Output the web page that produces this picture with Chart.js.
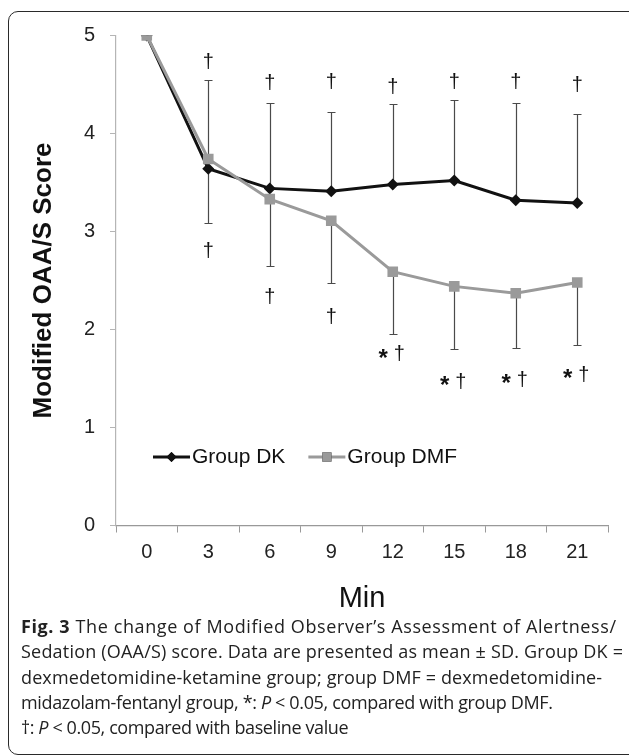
<!DOCTYPE html>
<html>
<head>
<meta charset="utf-8">
<script src="https://cdn.jsdelivr.net/npm/chart.js@4.4.1/dist/chart.umd.min.js"></script>
<style>
  body { margin: 0; background: #fff; width: 629px; height: 756px; overflow: hidden; position: relative; }
  #frame { position: absolute; left: 8px; top: 11px; width: 640px; height: 742px; border: 1.5px solid #2a2a2a; border-radius: 10px; }
  #wrap { position: absolute; left: 0; top: 0; width: 629px; height: 620px; }
  #caption { position: absolute; left: 21px; top: 614px; font-family: "Open Sans", sans-serif; font-size: 18px; line-height: 25.3px; color: #222; white-space: nowrap; }
  #caption b { font-weight: 700; }
  #caption span { display: block; }
</style>
</head>
<body>
<div id="frame"></div>
<div id="wrap"><canvas id="myChart" width="629" height="620"></canvas></div>
<div id="caption">
  <span style="letter-spacing:0.6px"><b>Fig. 3</b> The change of Modified Observer’s Assessment of Alertness/</span>
  <span style="letter-spacing:0.2px">Sedation (OAA/S) score. Data are presented as mean ± SD. Group DK =</span>
  <span style="letter-spacing:0.12px">dexmedetomidine-ketamine group; group DMF = dexmedetomidine-</span>
  <span style="letter-spacing:-0.35px">midazolam-fentanyl group, *: <i>P</i> &lt; 0.05, compared with group DMF.</span>
  <span style="letter-spacing:-0.4px">†: <i>P</i> &lt; 0.05, compared with baseline value</span>
</div>
<script>
const minutes = ["0", "3", "6", "9", "12", "15", "18", "21"];
const dkMean = [5, 3.64, 3.44, 3.41, 3.48, 3.52, 3.32, 3.29];
const dmfMean = [5, 3.74, 3.33, 3.11, 2.59, 2.44, 2.37, 2.48];
const dkUpper = [null, 4.55, 4.31, 4.22, 4.30, 4.34, 4.31, 4.20];
const dmfLower = [null, 3.09, 2.65, 2.47, 1.95, 1.80, 1.81, 1.84];
const dkMarks = ["", "†", "†", "†", "†", "†", "†", "†"];
const dmfMarks = ["", "†", "†", "†", "*†", "*†", "*†", "*†"];
const yTicks = [0, 1, 2, 3, 4, 5];

// gap (px) between the error bar cap and its significance mark
const dkMarkGap = [0, 17, 20, 29, 17, 18, 21, 28];
const dmfMarkGap = [0, 29, 32, 34, 20, 33, 32, 30];

const FONT = '"Liberation Sans", Arial, sans-serif';

// error bars go behind the lines, marks go on top
const errorBars = {
  id: "errorBars",
  beforeDatasetsDraw(chart) {
    const ctx = chart.ctx;
    const y = chart.scales.y;
    ctx.save();
    ctx.strokeStyle = "#4a4a4a";
    ctx.lineWidth = 1.2;
    chart.data.datasets.forEach((ds, i) => {
      const meta = chart.getDatasetMeta(i);
      ds.errEnd.forEach((v, j) => {
        if (v == null) return;
        const px = Math.round(meta.data[j].x) + 0.5;
        const y0 = y.getPixelForValue(ds.data[j]);
        const y1 = Math.round(y.getPixelForValue(v)) + 0.5;
        ctx.beginPath();
        ctx.moveTo(px, y0);
        ctx.lineTo(px, y1);
        ctx.moveTo(px - 4, y1);
        ctx.lineTo(px + 4, y1);
        ctx.stroke();
      });
    });
    ctx.restore();
  },
  afterDatasetsDraw(chart) {
    const ctx = chart.ctx;
    const y = chart.scales.y;
    ctx.save();
    ctx.fillStyle = "#111";
    ctx.textAlign = "center";
    ctx.textBaseline = "middle";
    chart.data.datasets.forEach((ds, i) => {
      const meta = chart.getDatasetMeta(i);
      ds.marks.forEach((m, j) => {
        if (!m) return;
        const px = meta.data[j].x;
        const y1 = y.getPixelForValue(ds.errEnd[j]);
        const up = ds.errEnd[j] > ds.data[j];
        const py = up ? y1 - ds.markGap[j] : y1 + ds.markGap[j];
        if (m.indexOf("*") >= 0) {
          ctx.font = "bold 24px " + FONT;
          ctx.fillText("*", px - 9.5, py + 4.5);
          ctx.font = "20px " + FONT;
          ctx.fillText("†", px + 6.5, py);
        } else {
          ctx.font = "20px " + FONT;
          ctx.fillText(m, px, py);
        }
      });
    });
    ctx.restore();
  }
};

// legend inside the plot: line + marker + label
const lineLegend = {
  id: "lineLegend",
  afterDraw(chart) {
    const ctx = chart.ctx;
    const area = chart.chartArea;
    let x = area.left + 37;
    const yy = area.top + 421.5;
    ctx.save();
    ctx.font = "21px " + FONT;
    ctx.textBaseline = "middle";
    chart.data.datasets.forEach((ds) => {
      ctx.strokeStyle = ds.borderColor;
      ctx.lineWidth = 3;
      ctx.beginPath();
      ctx.moveTo(x, yy);
      ctx.lineTo(x + 37, yy);
      ctx.stroke();
      Chart.helpers.drawPoint(ctx, {
        pointStyle: ds.pointStyle,
        radius: ds.pointRadius - 1,
        borderWidth: 0
      }, x + 18.5, yy);
      ctx.fillStyle = ds.pointBackgroundColor;
      ctx.fill();
      ctx.fillStyle = "#111";
      ctx.fillText(ds.label, x + 39, yy);
      x += 39 + ctx.measureText(ds.label).width + 23;
    });
    ctx.restore();
  }
};

const chart = new Chart(document.getElementById("myChart"), {
  type: "line",
  data: {
    labels: minutes,
    datasets: [
      {
        label: "Group DK",
        data: dkMean,
        errEnd: dkUpper,
        marks: dkMarks,
        markGap: dkMarkGap,
        borderColor: "#111",
        borderWidth: 3,
        pointStyle: "rectRot",
        pointRadius: 6,
        pointBackgroundColor: "#111",
        pointBorderWidth: 0,
        order: 2
      },
      {
        label: "Group DMF",
        data: dmfMean,
        errEnd: dmfLower,
        marks: dmfMarks,
        markGap: dmfMarkGap,
        borderColor: "#9a9a9a",
        borderWidth: 3,
        pointStyle: "rect",
        pointRadius: 7.5,
        pointBackgroundColor: "#9a9a9a",
        pointBorderWidth: 0,
        order: 1
      }
    ]
  },
  options: {
    responsive: false,
    animation: false,
    layout: { padding: { top: 35.5, right: 21, left: 0, bottom: 0 } },
    plugins: { legend: { display: false }, tooltip: { enabled: false } },
    scales: {
      x: {
        offset: true,
        grid: { offset: true, drawOnChartArea: false, tickLength: 7, color: "#999" },
        border: { color: "#999", width: 1.2 },
        ticks: { color: "#222", font: { family: FONT, size: 20 }, padding: 8, maxRotation: 0 },
        title: { display: true, text: "Min", color: "#111", font: { family: FONT, size: 29 }, padding: { top: 0, bottom: 4 } },
        afterFit(s) { s.height = 94.5; }
      },
      y: {
        min: 0,
        max: 5,
        afterBuildTicks(s) { s.ticks = yTicks.map(v => ({ value: v })); },
        grid: { drawOnChartArea: false, tickLength: 6, color: "#b5b5b5" },
        border: { color: "#b5b5b5", width: 1.2 },
        ticks: { color: "#222", font: { family: FONT, size: 20 }, padding: 15 },
        title: { display: true, text: "Modified OAA/S Score", color: "#111", font: { family: FONT, size: 26, weight: "bold" }, padding: { top: 28, bottom: 0 } },
        afterFit(s) { s.width = 116; }
      }
    }
  },
  plugins: [errorBars, lineLegend]
});
</script>
</body>
</html>
